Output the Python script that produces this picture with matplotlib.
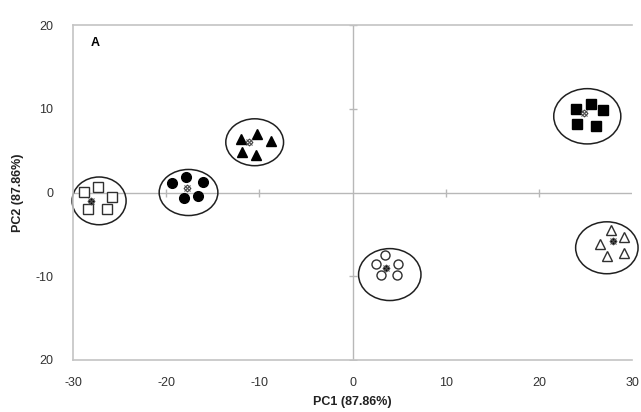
import matplotlib
matplotlib.use('Agg')
import matplotlib.pyplot as plt
from matplotlib.patches import Ellipse

plt.rcParams['font.family'] = ['Liberation Sans', 'DejaVu Sans']

# group scores (PC1, PC2)
sq_open_x = [-28.8, -27.3, -25.8, -28.4, -26.4]
sq_open_y = [0.1, 0.6, -0.5, -2.0, -2.0]
circ_fill_x = [-19.4, -17.9, -16.1, -16.6, -18.1]
circ_fill_y = [1.1, 1.9, 1.3, -0.4, -0.6]
tri_fill_x = [-12.0, -10.2, -8.8, -11.9, -10.4]
tri_fill_y = [6.4, 7.0, 6.1, 4.8, 4.5]
sq_fill_x = [24.0, 25.6, 26.9, 24.1, 26.1]
sq_fill_y = [10.0, 10.6, 9.8, 8.2, 8.0]
circ_open_x = [3.5, 2.5, 4.9, 3.1, 4.8]
circ_open_y = [-7.5, -8.5, -8.5, -9.8, -9.9]
tri_open_x = [27.7, 29.1, 26.6, 27.3, 29.1]
tri_open_y = [-4.5, -5.3, -6.1, -7.6, -7.2]

# group centroids
cent_x = [-28.1, -17.8, -11.1, 24.8, 3.6, 28.0]
cent_y = [-1.0, 0.5, 6.0, 9.5, -9.0, -5.8]
cent_fill = ['black', 'white', 'white', 'white', 'black', 'black']

# hand-drawn ellipses: centre x, centre y, width, height
ell_x = [-27.2, -17.6, -10.5, 25.2, 4.0, 27.3]
ell_y = [-1.0, 0.0, 6.0, 9.1, -9.8, -6.6]
ell_w = [5.8, 6.3, 6.2, 7.2, 6.7, 6.7]
ell_h = [5.7, 5.5, 5.6, 6.6, 6.2, 6.2]

xticks = [-30, -20, -10, 0, 10, 20, 30]
yticks = [-20, -10, 0, 10, 20]
ytick_labels = ['20', '-10', '0', '10', '20']

fig = plt.figure(figsize=(6.41, 4.12), dpi=100)
ax = fig.add_axes([73 / 641, 52 / 412, 559 / 641, 335 / 412])

grey = '#b8b8b8'
ax.axvline(0, color=grey, lw=1, zorder=1)
ax.axhline(0, color=grey, lw=1, zorder=1)
ax.plot([0] * 4, [-20, -10, 10, 20], ls='none', marker='_', ms=6, mew=1, color=grey, zorder=1)
ax.plot([-20, -10, 10, 20], [0] * 4, ls='none', marker='|', ms=6, mew=1, color=grey, zorder=1)

for cx, cy, w, h in zip(ell_x, ell_y, ell_w, ell_h):
    ax.add_patch(Ellipse((cx, cy), w, h, fill=False, ec='#202020', lw=1.1,
                         clip_on=False, zorder=2))

ax.plot(sq_open_x, sq_open_y, 's', ms=6.5, mfc='white', mec='#303030', mew=1, ls='none', zorder=3)
ax.plot(circ_fill_x, circ_fill_y, 'o', ms=7, color='black', ls='none', zorder=3)
ax.plot(tri_fill_x, tri_fill_y, '^', ms=7.5, color='black', ls='none', zorder=3)
ax.plot(sq_fill_x, sq_fill_y, 's', ms=6.5, color='black', ls='none', zorder=3)
ax.plot(circ_open_x, circ_open_y, 'o', ms=6.5, mfc='white', mec='#303030', mew=1, ls='none', zorder=3)
ax.plot(tri_open_x, tri_open_y, '^', ms=7.5, mfc='white', mec='#303030', mew=1, ls='none',
        clip_on=False, zorder=3)

for cx, cy, fc in zip(cent_x, cent_y, cent_fill):
    ax.plot(cx, cy, 'D', ms=3.5, mfc=fc, mec='#404040', mew=0.8, zorder=4)
    ax.plot(cx, cy, 'x', ms=5, mec='#505050', mew=0.8, zorder=4)

ax.set_xlim(-30, 30)
ax.set_ylim(-20, 20)
ax.set_xticks(xticks)
ax.set_xticklabels([str(t) for t in xticks])
ax.set_yticks(yticks)
ax.set_yticklabels(ytick_labels)
ax.tick_params(length=0, labelsize=9, labelcolor='#333333')
ax.tick_params(axis='x', pad=12)
ax.tick_params(axis='y', pad=14)

for side in ['left', 'bottom', 'top']:
    ax.spines[side].set_color('#c4c4c4')
    ax.spines[side].set_linewidth(1.2)
ax.spines['right'].set_visible(False)

ax.text(0.04, 0.946, 'A', transform=ax.transAxes, fontsize=9, fontweight='bold',
        ha='center', va='center')

ax.set_xlabel('PC1 (87.86%)', fontsize=9, fontweight='bold', color='#222222', labelpad=5)
ax.set_ylabel('PC2 (87.86%)', fontsize=9, fontweight='bold', color='#222222', labelpad=8)

fig.savefig('out.png', dpi=100)
